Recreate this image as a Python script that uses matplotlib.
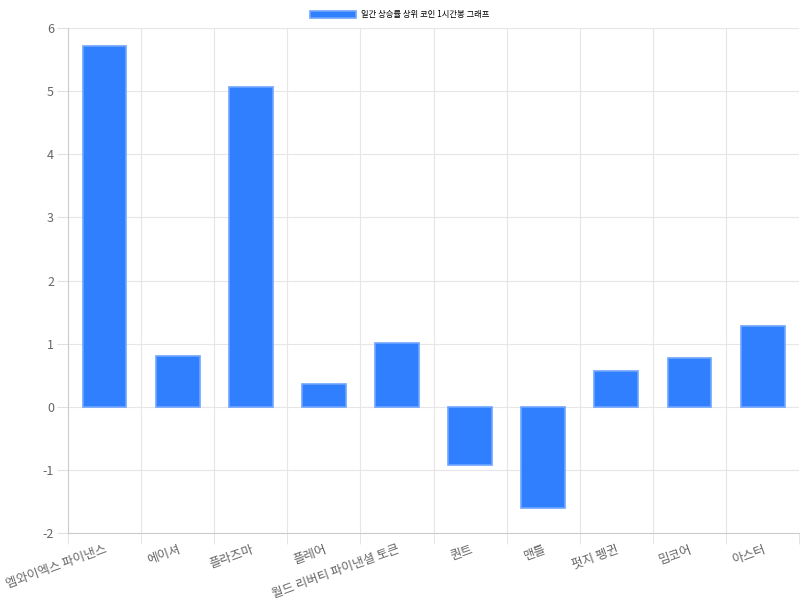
import matplotlib.pyplot as plt
import numpy as np

plt.rcParams['font.family'] = ['Noto Sans CJK KR', 'DejaVu Sans']
plt.rcParams['axes.unicode_minus'] = False

# 데이터
coins = ['엠와이엑스 파이낸스', '에이셔', '플라즈마', '플레어', '월드 리버티 파이낸셜 토큰',
         '퀀트', '맨틀', '펏지 펭귄', '밈코어', '아스터']
changes = [5.72, 0.81, 5.06, 0.36, 1.01, -0.92, -1.60, 0.57, 0.78, 1.28]
legend_label = '일간 상승률 상위 코인 1시간봉 그래프'

fig = plt.figure(figsize=(8, 6), dpi=100)
ax = fig.add_axes([0.085, 0.1117, 0.914, 0.8416])

x = np.arange(len(coins))
ax.bar(x, changes, width=0.6, color='#2f7fff', edgecolor='#6fa5ff', linewidth=1.2,
       label=legend_label, zorder=3)

ax.set_xlim(-0.5, len(coins) - 0.5)
ax.set_ylim(-2, 6)
ax.set_yticks(np.arange(-2, 7, 1))

# 카테고리 경계에 세로 격자
ax.set_xticks(x)
ax.set_xticks(np.arange(-0.5, len(coins), 1), minor=True)
ax.set_xticklabels(coins, rotation=20, ha='right', rotation_mode='anchor',
                   fontsize=9, color='#666666')
ax.tick_params(axis='x', which='major', length=0, pad=7)
ax.tick_params(axis='x', which='minor', length=8, color='#e0e0e0')
ax.tick_params(axis='y', length=8, color='#e0e0e0', labelsize=9, labelcolor='#666666', pad=2)

ax.grid(True, which='minor', axis='x', color='#e6e6e6', linewidth=0.8, zorder=0)
ax.grid(True, which='major', axis='y', color='#e6e6e6', linewidth=0.8, zorder=0)

for s in ['top', 'right']:
    ax.spines[s].set_visible(False)
ax.spines['left'].set_color('#cccccc')
ax.spines['bottom'].set_color('#cccccc')

fig.legend(loc='upper center', bbox_to_anchor=(0.5, 0.995), frameon=False,
           fontsize=6, handlelength=5.5, handleheight=0.9, handletextpad=0.6)

fig.savefig('out.png', dpi=100)
